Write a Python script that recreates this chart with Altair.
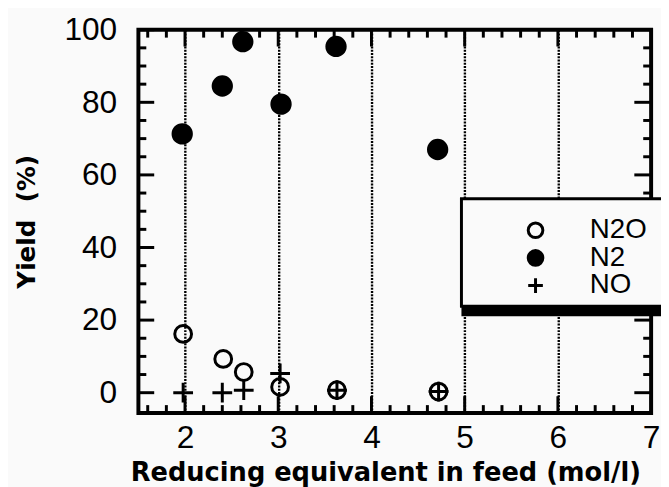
import altair as alt
import pandas as pd

# ---- data ----
series = ["N2O", "N2", "NO"]
x_n2o = [1.98, 2.41, 2.63, 3.02, 3.63, 4.72]
y_n2o = [16.2, 9.3, 5.7, 1.6, 0.7, 0.3]
x_n2 = [1.97, 2.40, 2.62, 3.03, 3.62, 4.71]
y_n2 = [71.3, 84.5, 96.7, 79.5, 95.4, 67.0]
x_no = [1.98, 2.40, 2.63, 3.02, 3.63, 4.72]
y_no = [0.0, 0.0, 0.7, 5.3, 0.7, 0.3]

x_major = [2, 3, 4, 5, 6, 7]
x_minor = [1.6, 1.8, 2.2, 2.4, 2.6, 2.8, 3.2, 3.4, 3.6, 3.8, 4.2, 4.4, 4.6, 4.8,
           5.2, 5.4, 5.6, 5.8, 6.2, 6.4, 6.6, 6.8]
y_major = [0, 20, 40, 60, 80, 100]
y_minor = [5, 10, 15, 25, 30, 35, 45, 50, 55, 65, 70, 75, 85, 90, 95]

rows = []
for name, xs, ys in [("N2O", x_n2o, y_n2o), ("N2", x_n2, y_n2), ("NO", x_no, y_no)]:
    for xv, yv in zip(xs, ys):
        rows.append({"x": xv, "y": yv, "series": name, "marker": name})
df = pd.DataFrame(rows)

W, H = 519, 388
BG = "#fafafa"
x_scale = alt.Scale(domain=[1.5, 7], nice=False, zero=False)
y_scale = alt.Scale(domain=[-5.6, 100], nice=False, zero=False)

PLUS = "M-1,0H1M0,-1V1"

legend = alt.Legend(
    title=None, orient="none", legendX=388, legendY=189, zindex=5,
    labelFont="Liberation Sans", labelFontSize=28, labelColor="black",
    symbolSize=220, symbolStrokeWidth=3, symbolStrokeColor="black",
    labelOffset=41, rowPadding=-6, padding=0,
)

x_axis = alt.Axis(
    values=x_major, format="d", grid=True, gridDash=[2, 1.3], gridColor="black",
    gridWidth=2.4, gridOpacity=1, ticks=False, tickSize=0, domain=False,
    labelFont="Liberation Sans", labelFontSize=32, labelColor="black",
    labelPadding=10, labelFlush=False,
    title="Reducing equivalent in feed (mol/l)",
    titleFont="DejaVu Sans", titleFontWeight="bold", titleFontSize=26,
    titleColor="black", titleX=250, titleY=47, titleBaseline="top",
)
y_axis = alt.Axis(
    values=y_major, format="d", grid=False, ticks=False, tickSize=0, domain=False,
    labelFont="Liberation Sans", labelFontSize=32, labelColor="black",
    labelPadding=22, labelFlush=False,
    title="Yield\u00a0\u00a0(%)",
    titleFont="DejaVu Sans", titleFontWeight="bold", titleFontSize=25,
    titleColor="black", titleX=-100,
)

# size scale uses a different domain order so its (hidden) legend is not merged
size_domain = ["NO", "N2", "N2O"]
size_range = [400, 289, 272]

points = alt.Chart(df).mark_point(strokeWidth=3, opacity=1).encode(
    x=alt.X("x:Q", scale=x_scale, axis=x_axis),
    y=alt.Y("y:Q", scale=y_scale, axis=y_axis),
    shape=alt.Shape("series:N", scale=alt.Scale(domain=series, range=["circle", "circle", PLUS]), legend=legend),
    fill=alt.Fill("series:N", scale=alt.Scale(domain=series, range=["transparent", "black", "transparent"]), legend=legend),
    stroke=alt.Stroke("series:N", scale=alt.Scale(domain=series, range=["black", "black", "black"]), legend=legend),
    size=alt.Size("marker:N", scale=alt.Scale(domain=size_domain, range=size_range), legend=None),
)


def xticks(vals, length, side):
    d = pd.DataFrame({"x": vals})
    if side == "bottom":
        yy, yy2 = alt.value(H), alt.value(H - length)
    else:
        yy, yy2 = alt.value(0), alt.value(length)
    return alt.Chart(d).mark_rule(color="black", strokeWidth=3).encode(
        x=alt.X("x:Q", scale=x_scale), y=yy, y2=yy2)


def yticks(vals, length, side):
    d = pd.DataFrame({"y": vals})
    if side == "left":
        xx, xx2 = alt.value(0), alt.value(length)
    else:
        xx, xx2 = alt.value(W), alt.value(W - length)
    return alt.Chart(d).mark_rule(color="black", strokeWidth=3).encode(
        y=alt.Y("y:Q", scale=y_scale), x=xx, x2=xx2)


MAJ, MIN = 17, 8
ticks = [
    xticks(x_major, MAJ, "bottom"), xticks(x_minor, MIN, "bottom"),
    xticks(x_major, MAJ, "top"), xticks(x_minor, MIN, "top"),
    yticks(y_major, 16, "left"), yticks(y_minor, MIN, "left"),
    yticks(y_major, MAJ, "right"), yticks(y_minor, MIN, "right"),
]

one = pd.DataFrame({"d": [0]})
shadow = alt.Chart(one).mark_rect(color="black").encode(
    x=alt.value(327), x2=alt.value(640), y=alt.value(178), y2=alt.value(290))
box = alt.Chart(one).mark_rect(fill=BG, stroke="black", strokeWidth=3).encode(
    x=alt.value(327), x2=alt.value(640), y=alt.value(171), y2=alt.value(280))

chart = alt.layer(*ticks, points, shadow, box).properties(
    width=W, height=H,
    autosize=alt.AutoSizeParams(type="none"),
    padding={"left": 132, "top": 19, "right": 10, "bottom": 80},
    background=BG,
).configure_view(stroke="black", strokeWidth=4)

chart.save("out.html", embed_options={"renderer": "svg", "actions": False})
